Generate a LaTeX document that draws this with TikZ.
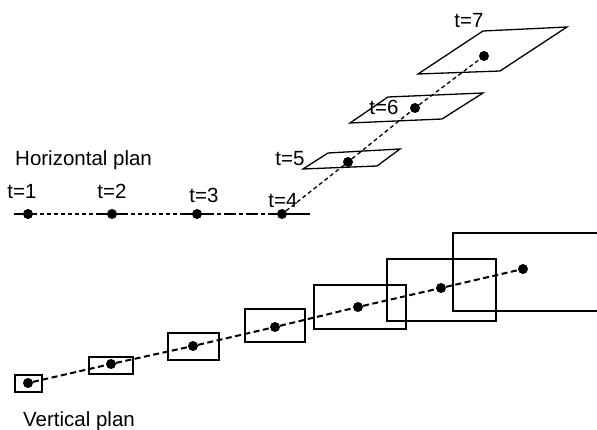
\documentclass[tikz,border=0pt]{standalone}
\usepackage{fontspec}
\setmainfont{Liberation Sans}
\begin{document}
\begin{tikzpicture}[x=1pt,y=-1pt,
  dot/.style={circle,fill=black,inner sep=0pt,minimum size=10pt},
  lbl/.style={anchor=base,inner sep=0pt,font=\fontsize{20.5}{24}\selectfont},
  plane/.style={draw=black,line width=1.3pt},
  vbox/.style={draw=black,line width=1.4pt},
  hline/.style={line width=1.5pt},
  hdash/.style={line width=1.3pt,dash pattern=on 4pt off 3pt},
  vdash/.style={line width=2pt,dash pattern=on 6pt off 3.5pt}]
\useasboundingbox (0,0) rectangle (597,430);
% horizontal plan
\coordinate (hl) at (14,214);
\coordinate (hr) at (310,214);
\node[dot] (h1) at (28,214) {};
\node[dot] (h2) at (112,214) {};
\node[dot] (h3) at (197,214) {};
\node[dot] (h4) at (282,214) {};
\draw[hline] (hl) -- (h1);
\draw[hdash] (h1) -- (h2);
\draw[hdash] (h2) -- (h3);
\draw[hline,dash pattern=on 12pt off 3pt on 4pt off 3pt] (h3) -- (h4);
\draw[hline] (h4) -- (hr);
\draw[hline] ([xshift=-12pt]h2.center) -- ([xshift=12pt]h2.center);
\draw[hline] ([xshift=-14pt]h3.center) -- ([xshift=16pt]h3.center);
\node[lbl] (l1) at (22,199) {t=1};
\node[lbl] (l2) at (112,199) {t=2};
\node[lbl] (l3) at (204,203) {t=3};
\node[lbl] (l4) at (283,208) {t=4};
\node[lbl,anchor=base west] (hp) at (15,166) {Horizontal plan};
% planes
\draw[plane,fill=white] (303,169) -- (377,166) -- (400,149) -- (328,153) -- cycle;
\draw[plane,fill=white] (350,123) -- (442,119) -- (483,93) -- (388,97) -- cycle;
\draw[plane,fill=white] (418,74) -- (500,71) -- (567,27) -- (483,31) -- cycle;
\node[dot] (h5) at (348,162) {};
\node[dot] (h6) at (415,108) {};
\node[dot] (h7) at (484,56) {};
\draw[hdash] (h4) -- (h5);
\draw[hdash] (h5) -- (h6);
\draw[hdash] (h6) -- (h7);
\node[lbl] (l5) at (290,166) {t=5};
\node[lbl] (l6) at (384,115) {t=6};
\node[lbl] (l7) at (469,28) {t=7};
% vertical plan
\draw[vbox] (15,375) rectangle (42,392);
\draw[vbox] (89,357) rectangle (133,374);
\draw[vbox] (168,333) rectangle (219,360);
\draw[vbox] (245,309) rectangle (305,342);
\draw[vbox] (314,285) rectangle (406,329);
\draw[vbox] (387,259) rectangle (496,321);
\draw[vbox] (598,233) -- (453,233) -- (453,311) -- (598,311);
\node[dot] (v1) at (28,383) {};
\node[dot] (v2) at (111,364) {};
\node[dot] (v3) at (193,346) {};
\node[dot] (v4) at (275,327) {};
\node[dot] (v5) at (358,307) {};
\node[dot] (v6) at (441,288) {};
\node[dot] (v7) at (523,269) {};
\draw[vdash] (v1) -- (v2);
\draw[vdash] (v2) -- (v3);
\draw[vdash] (v3) -- (v4);
\draw[vdash] (v4) -- (v5);
\draw[vdash] (v5) -- (v6);
\draw[vdash] (v6) -- (v7);
\node[lbl,anchor=base west] (vp) at (23,426) {Vertical plan};
\end{tikzpicture}
\end{document}
